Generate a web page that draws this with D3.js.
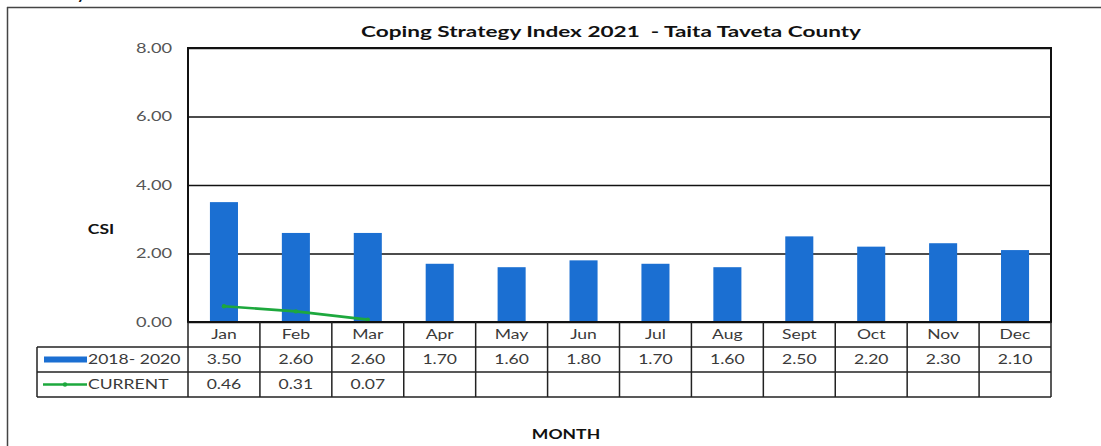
<!DOCTYPE html>
<html>
<head>
<meta charset="utf-8">
<script src="https://cdn.jsdelivr.net/npm/d3@7"></script>
<style>
  html, body { margin: 0; padding: 0; background: #fff; }
  svg { display: block; }
</style>
</head>
<body>
<svg id="chart" width="1101" height="446"></svg>
<script>
// Monthly coping strategy index values
const months = ["Jan", "Feb", "Mar", "Apr", "May", "Jun", "Jul", "Aug", "Sept", "Oct", "Nov", "Dec"];
const baseline = [3.50, 2.60, 2.60, 1.70, 1.60, 1.80, 1.70, 1.60, 2.50, 2.20, 2.30, 2.10];
const current = [0.46, 0.31, 0.07];
const yTicks = [0, 2, 4, 6, 8];
const seriesNames = ["2018- 2020", "CURRENT"];

const BLUE = "#1b6fd2";
const GREEN = "#1da83d";
const FONT = "Lato, 'Open Sans', sans-serif";
const SX = 1.35; // horizontal stretch applied to all labels

// move a text's x/y into a transform so it can be widened horizontally
function widen(sel, sx = SX) {
  sel.each(function () {
    const t = d3.select(this);
    const tx = +t.attr("x") || 0, ty = +t.attr("y") || 0;
    t.attr("x", 0).attr("y", 0).attr("transform", `translate(${tx},${ty}) scale(${sx},1)`);
  });
}

const svg = d3.select("#chart");

// page frame (top and left rules)
svg.append("line").attr("x1", 7).attr("x2", 1101).attr("y1", 7.5).attr("y2", 7.5)
  .attr("stroke", "#444").attr("stroke-width", 1.5);
svg.append("line").attr("x1", 7.5).attr("x2", 7.5).attr("y1", 7).attr("y2", 446)
  .attr("stroke", "#444").attr("stroke-width", 1.5);
// tail of a line of text above the frame
svg.append("text").attr("x", 76).attr("y", -2).attr("font-family", FONT)
  .attr("font-size", 22).attr("fill", "#111").text("y");

const plot = { left: 188, right: 1051, top: 48, bottom: 322 };
const rowH = 25;
const legendLeft = 37;

const x = d3.scaleBand().domain(months).range([plot.left, plot.right]).padding(0);
const y = d3.scaleLinear().domain([0, 8]).range([plot.bottom, plot.top]);
const barW = x.bandwidth() * 0.39;

// gridlines + tick labels
const yAxis = d3.axisLeft(y).tickValues(yTicks).tickFormat(d3.format(".2f"))
  .tickSize(-(plot.right - plot.left)).tickPadding(16);
const gy = svg.append("g").attr("transform", `translate(${plot.left},0)`).call(yAxis);
gy.select(".domain").remove();
gy.selectAll(".tick line").attr("stroke", "#111").attr("stroke-width", 1.6);
gy.selectAll(".tick text").attr("font-family", FONT).attr("font-size", 13.5)
  .attr("fill", "#555").attr("dy", "0.3em")
  .attr("x", -16 / SX).attr("transform", `scale(${SX},1)`);

// bars
svg.append("g").selectAll("rect").data(baseline).join("rect")
  .attr("x", (d, i) => x(months[i]) + (x.bandwidth() - barW) / 2)
  .attr("width", barW)
  .attr("y", d => y(d))
  .attr("height", d => y(0) - y(d))
  .attr("fill", BLUE);

// current line
const line = d3.line().x((d, i) => x(months[i]) + x.bandwidth() / 2).y(d => y(d));
svg.append("path").datum(current).attr("d", line)
  .attr("fill", "none").attr("stroke", GREEN).attr("stroke-width", 2.6);
svg.append("g").selectAll("circle").data(current).join("circle")
  .attr("cx", (d, i) => x(months[i]) + x.bandwidth() / 2)
  .attr("cy", d => y(d)).attr("r", 2.2).attr("fill", GREEN);

// plot border
svg.append("rect").attr("x", plot.left).attr("y", plot.top)
  .attr("width", plot.right - plot.left).attr("height", plot.bottom - plot.top)
  .attr("fill", "none").attr("stroke", "#111").attr("stroke-width", 2);

// data table
const table = svg.append("g").attr("stroke", "#222").attr("stroke-width", 1.5);
[1, 2, 3].forEach(r => {
  table.append("line").attr("x1", legendLeft).attr("x2", plot.right)
    .attr("y1", plot.bottom + r * rowH).attr("y2", plot.bottom + r * rowH);
});
table.append("line").attr("x1", legendLeft).attr("x2", legendLeft)
  .attr("y1", plot.bottom + rowH).attr("y2", plot.bottom + 3 * rowH);
months.forEach(m => {
  table.append("line").attr("x1", x(m)).attr("x2", x(m))
    .attr("y1", plot.bottom).attr("y2", plot.bottom + 3 * rowH);
});
table.append("line").attr("x1", plot.right).attr("x2", plot.right)
  .attr("y1", plot.bottom).attr("y2", plot.bottom + 3 * rowH);

// month labels
const xAxis = d3.axisBottom(x).tickSize(0).tickPadding(0);
const gx = svg.append("g").attr("transform", `translate(0,${plot.bottom + rowH / 2})`).call(xAxis);
gx.select(".domain").remove();
gx.selectAll(".tick text").attr("font-family", FONT).attr("font-size", 13)
  .attr("fill", "#3a3a3a").attr("dy", "0.35em").attr("y", 0)
  .attr("transform", `scale(${SX},1)`);

// value cells
const cellText = (vals, row) => svg.append("g").selectAll("text").data(vals).join("text")
  .attr("x", (d, i) => x(months[i]) + x.bandwidth() / 2)
  .attr("y", plot.bottom + row * rowH + rowH / 2)
  .attr("dy", "0.35em").attr("text-anchor", "middle")
  .attr("font-family", FONT).attr("font-size", 13).attr("fill", "#3a3a3a")
  .text(d => d3.format(".2f")(d))
  .call(widen);
cellText(baseline, 1);
cellText(current, 2);

// legend keys in the table
const r1 = plot.bottom + rowH * 1.5, r2 = plot.bottom + rowH * 2.5;
svg.append("rect").attr("x", 44).attr("y", r1 - 3).attr("width", 43).attr("height", 6).attr("fill", BLUE);
svg.append("line").attr("x1", 43).attr("x2", 87).attr("y1", r2).attr("y2", r2)
  .attr("stroke", GREEN).attr("stroke-width", 2.4);
svg.append("circle").attr("cx", 65).attr("cy", r2).attr("r", 2.2).attr("fill", GREEN);
svg.append("g").selectAll("text").data(seriesNames).join("text")
  .attr("x", 88).attr("y", (d, i) => i === 0 ? r1 : r2).attr("dy", "0.35em")
  .attr("font-family", FONT).attr("font-size", 13).attr("fill", "#3a3a3a").text(d => d)
  .call(widen);

// titles
svg.append("text").attr("x", 611).attr("y", 37).attr("text-anchor", "middle")
  .attr("font-family", FONT).attr("font-weight", "bold").attr("font-size", 16)
  .attr("fill", "#111").attr("textLength", 500).attr("lengthAdjust", "spacingAndGlyphs")
  .style("white-space", "pre")
  .text("Coping Strategy Index 2021  - Taita Taveta County");
svg.append("text").attr("x", 101).attr("y", 229).attr("dy", "0.35em").attr("text-anchor", "middle")
  .attr("font-family", FONT).attr("font-weight", "bold").attr("font-size", 13)
  .attr("fill", "#111").text("CSI").call(widen);
svg.append("text").attr("x", 566).attr("y", 434).attr("dy", "0.35em").attr("text-anchor", "middle")
  .attr("font-family", FONT).attr("font-weight", "bold").attr("font-size", 13)
  .attr("fill", "#111").text("MONTH").call(widen);
</script>
</body>
</html>
